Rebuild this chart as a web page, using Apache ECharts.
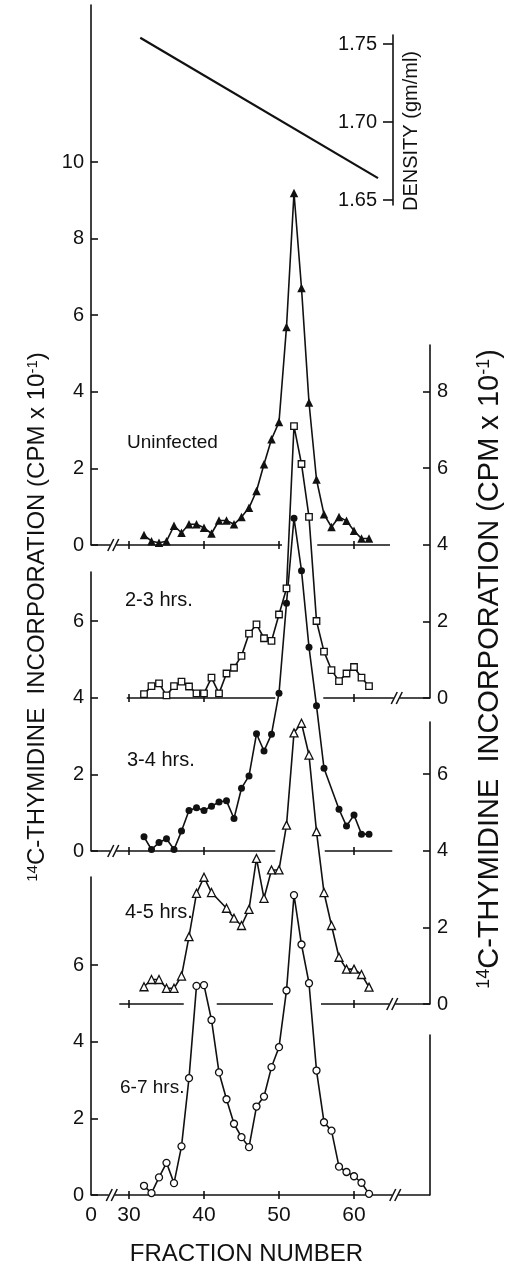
<!DOCTYPE html>
<html>
<head>
<meta charset="utf-8">
<script src="https://cdn.jsdelivr.net/npm/echarts@6/dist/echarts.min.js"></script>
<style>
  html, body { margin: 0; padding: 0; background: #fff; }
  #chart { width: 510px; height: 1267px; }
</style>
</head>
<body>
<div id="chart"></div>
<script>
// ---- data: fraction numbers and 14C-thymidine incorporation (CPM x 10^-1) ----
const fractionsAll = [32,33,34,35,36,37,38,39,40,41,42,43,44,45,46,47,48,49,50,51,52,53,54,55,56,57,58,59,60,61,62];

const uninfected = [0.26,0.10,0.06,0.10,0.50,0.32,0.54,0.54,0.45,0.30,0.64,0.64,0.54,0.73,0.97,1.41,2.11,2.76,3.21,5.69,9.19,6.71,3.72,1.71,0.80,0.47,0.73,0.63,0.37,0.17,0.17];

const hrs2to3 = [0.10,0.31,0.38,0.07,0.31,0.43,0.30,0.12,0.12,0.53,0.12,0.64,0.79,1.10,1.68,1.92,1.56,1.49,2.18,2.86,7.10,6.11,4.73,2.01,1.21,0.73,0.44,0.64,0.81,0.53,0.31];

const fractions3to4 = [32,33,34,35,36,37,38,39,40,41,42,43,44,45,46,47,48,49,50,51,52,53,54,55,56,58,59,60,61,62];
const hrs3to4 = [0.37,0.04,0.22,0.32,0.04,0.52,1.06,1.13,1.06,1.17,1.28,1.31,0.85,1.64,1.96,3.06,2.61,3.05,4.12,6.47,8.69,7.32,5.32,3.79,2.16,1.09,0.65,0.94,0.44,0.44];

const fractions4to5 = [32,33,34,35,36,37,38,39,40,41,43,44,45,46,47,48,49,50,51,52,53,54,55,56,57,58,59,60,61,62];
const hrs4to5 = [0.45,0.64,0.64,0.41,0.41,0.73,1.76,2.89,3.31,2.91,2.50,2.24,2.05,2.47,3.80,2.76,3.50,3.50,4.67,7.08,7.33,6.50,4.50,2.91,2.05,1.22,0.91,0.91,0.77,0.44];

const hrs6to7 = [0.24,0.05,0.46,0.84,0.31,1.27,3.05,5.46,5.48,4.57,3.20,2.50,1.86,1.51,1.25,2.31,2.57,3.34,3.86,5.34,7.83,6.54,5.53,3.25,1.90,1.68,0.74,0.60,0.49,0.32,0.03];

// density gradient (gm/ml) across the fractions
const densityFractions = [31.5, 63.2];
const densityValues = [1.754, 1.664];

// tick labels
const xTickValues = [30, 40, 50, 60];
const xTickLabels = ['0', '30', '40', '50', '60'];   // '0' sits at the broken origin
const densityTicks = [1.65, 1.70, 1.75];
const ticksUninfected = [0, 2, 4, 6, 8, 10];
const ticks2to3 = [0, 2, 4, 6, 8];
const ticks3to4 = [0, 2, 4, 6];
const ticks4to5 = [0, 2, 4, 6];
const ticks6to7 = [0, 2, 4, 6];

// baseline pieces per panel (fraction units; null = runs to the frame)
const baseUninfected = [[null, 50.4], [55.1, 64.8]];
const base2to3 = [[29.7, 49.5], [55.9, null]];
const base3to4 = [[null, 49.5], [56.1, 65.1]];
const base4to5 = [[28.7, 37.3], [41.7, 49.2], [55.6, null]];
const base6to7 = [[null, null]];
// axis-break marks "//" on the baselines
const breaksUninfected = [27.9];
const breaks2to3 = [65.7];
const breaks3to4 = [27.9];
const breaks4to5 = [65.1];
const breaks6to7 = [27.7, 65.5];
// baseline tick crosses
const xt2to3 = [30, 40, 60];
const xt3to4 = [30, 40, 60];
const xt4to5 = [30, 60];

// ---- layout ----
const FRAME_L = 91, FRAME_R = 430, X30 = 129, PX_PER_FRACTION = 7.5, PX_PER_UNIT = 38.3;
const xMin = 30 - (X30 - FRAME_L) / PX_PER_FRACTION;
const xMax = 30 + (FRAME_R - X30) / PX_PER_FRACTION;
const FONT = 'Liberation Sans, Arial, sans-serif';
const INK = '#111';

const panels = [
  { name: 'Uninfected', top: 5,   bottom: 545,  side: 'left',  ticks: ticksUninfected, values: uninfected, fr: fractionsAll,
    symbol: 'triangle', size: 8.5, filled: true,  base: baseUninfected, breaks: breaksUninfected, xt: xTickValues,
    label: [127, 443, 19] },
  { name: '2-3 hrs.',   top: 345, bottom: 698,  side: 'right', ticks: ticks2to3, values: hrs2to3, fr: fractionsAll,
    symbol: 'rect', size: 6.5, filled: false, base: base2to3, breaks: breaks2to3, xt: xt2to3,
    label: [125, 600, 20] },
  { name: '3-4 hrs.',   top: 572, bottom: 851,  side: 'left',  ticks: ticks3to4, values: hrs3to4, fr: fractions3to4,
    symbol: 'circle', size: 7, filled: true,  base: base3to4, breaks: breaks3to4, xt: xt3to4,
    label: [127, 760, 20] },
  { name: '4-5 hrs.',   top: 722, bottom: 1004, side: 'right', ticks: ticks4to5, values: hrs4to5, fr: fractions4to5,
    symbol: 'triangle', size: 8, filled: false, base: base4to5, breaks: breaks4to5, xt: xt4to5,
    label: [125, 912, 20] },
  { name: '6-7 hrs.',   top: 877, bottom: 1195, side: 'left',  ticks: ticks6to7, values: hrs6to7, fr: fractionsAll,
    symbol: 'circle', size: 7, filled: false, base: base6to7, breaks: breaks6to7, xt: xTickValues,
    label: [120, 1088, 19] }
];

const grid = [], xAxis = [], yAxis = [], series = [];
const lineW = 1.6;

panels.forEach((p, i) => {
  grid.push({ left: FRAME_L, top: p.top, width: FRAME_R - FRAME_L, height: p.bottom - p.top });
  const isBottom = i === panels.length - 1;
  const labelValues = [xMin].concat(xTickValues);
  xAxis.push({
    gridIndex: i, type: 'value', min: xMin, max: xMax,
    axisLine: { show: false }, axisTick: { show: false }, splitLine: { show: false },
    axisLabel: isBottom ? {
      show: true, customValues: labelValues,
      formatter: (v) => xTickLabels[labelValues.findIndex(t => Math.abs(t - v) < 1e-6)],
      fontSize: 21, fontFamily: FONT, color: INK, margin: 10
    } : { show: false },
    name: isBottom ? 'FRACTION NUMBER' : '',
    nameLocation: 'middle', nameGap: 47,
    nameTextStyle: { fontSize: 24, fontFamily: FONT, color: INK, padding: [0, 28, 0, 0] }
  });
  yAxis.push({
    gridIndex: i, type: 'value', position: p.side, min: 0, max: (p.bottom - p.top) / PX_PER_UNIT,
    axisLine: { show: true, lineStyle: { color: INK, width: lineW } },
    axisTick: { show: true, inside: true, length: 7, customValues: p.ticks, lineStyle: { color: INK, width: lineW } },
    axisLabel: { customValues: p.ticks, fontSize: 20, fontFamily: FONT, color: INK, margin: 7 },
    splitLine: { show: false }
  });

  // the curve
  series.push({
    type: 'line', xAxisIndex: i, yAxisIndex: i, clip: false, showAllSymbol: true,
    data: p.fr.map((f, k) => [f, p.values[k]]),
    symbol: p.symbol, symbolSize: p.size,
    lineStyle: { color: INK, width: lineW },
    itemStyle: p.filled ? { color: INK } : { color: '#fff', borderColor: INK, borderWidth: 1.3 },
    z: 3
  });

  // baseline pieces
  series.push({
    type: 'custom', xAxisIndex: i, yAxisIndex: i, silent: true, clip: false, z: 2,
    data: p.base.map(s => [s[0] === null ? xMin : s[0], s[1] === null ? xMax : s[1]]),
    renderItem: (params, api) => {
      const a = api.coord([api.value(0), 0]), b = api.coord([api.value(1), 0]);
      return { type: 'line', shape: { x1: a[0], y1: a[1], x2: b[0], y2: b[1] },
               style: { stroke: INK, lineWidth: lineW } };
    }
  });

  // tick crosses on the baseline
  series.push({
    type: 'custom', xAxisIndex: i, yAxisIndex: i, silent: true, clip: false, z: 2,
    data: p.xt.map(f => [f, 0]),
    renderItem: (params, api) => {
      const c = api.coord([api.value(0), 0]);
      return { type: 'line', shape: { x1: c[0], y1: c[1] - 4, x2: c[0], y2: c[1] + 4 },
               style: { stroke: INK, lineWidth: lineW } };
    }
  });

  // axis-break marks
  series.push({
    type: 'custom', xAxisIndex: i, yAxisIndex: i, silent: true, clip: false, z: 2,
    data: p.breaks.map(f => [f, 0]),
    renderItem: (params, api) => {
      const c = api.coord([api.value(0), 0]);
      const mk = (dx) => ({ type: 'line',
        shape: { x1: c[0] + dx - 3, y1: c[1] + 6, x2: c[0] + dx + 3, y2: c[1] - 6 },
        style: { stroke: INK, lineWidth: lineW } });
      return { type: 'group', children: [
        { type: 'rect', shape: { x: c[0] - 3, y: c[1] - 2, width: 6, height: 4 }, style: { fill: '#fff' } },
        mk(-2.5), mk(2.5)] };
    }
  });
});

// density gradient panel
const dIdx = grid.length;
grid.push({ left: FRAME_L, top: 35, width: 393 - FRAME_L, height: 170 });
xAxis.push({ gridIndex: dIdx, type: 'value', min: xMin, max: 30 + (393 - X30) / PX_PER_FRACTION, show: false });
const DENS_PX = 1560;   // px per gm/ml
yAxis.push({
  gridIndex: dIdx, type: 'value', position: 'right',
  max: 1.75 + (44 - 35) / DENS_PX, min: 1.65 - (205 - 200) / DENS_PX,
  axisLine: { show: true, lineStyle: { color: INK, width: lineW } },
  axisTick: { show: true, inside: true, length: 10, customValues: densityTicks, lineStyle: { color: INK, width: lineW } },
  axisLabel: { inside: true, customValues: densityTicks, formatter: v => v.toFixed(2),
               fontSize: 20, fontFamily: FONT, color: INK, margin: 16 },
  splitLine: { show: false },
  name: 'DENSITY (gm/ml)', nameLocation: 'middle', nameRotate: 90, nameGap: 3,
  nameTextStyle: { fontSize: 20, fontFamily: FONT, color: INK, padding: [0, 22, 0, 0] }
});
series.push({
  type: 'line', xAxisIndex: dIdx, yAxisIndex: dIdx, symbol: 'none', clip: false,
  data: densityFractions.map((f, k) => [f, densityValues[k]]),
  lineStyle: { color: INK, width: 2.2 }
});

// frame piece at the lower right
const rIdx = grid.length;
grid.push({ left: FRAME_L, top: 1035, width: FRAME_R - FRAME_L, height: 1195 - 1035 });
xAxis.push({ gridIndex: rIdx, type: 'value', min: xMin, max: xMax, show: false });
yAxis.push({ gridIndex: rIdx, type: 'value', position: 'right', min: 0, max: 1,
  axisLine: { show: true, lineStyle: { color: INK, width: lineW } },
  axisTick: { show: false }, axisLabel: { show: false }, splitLine: { show: false } });

const yTitle = '{sup|14}C-THYMIDINE  INCORPORATION (CPM x 10{sup|-1})';
const titleStyle = (x, y, size) => ({
  type: 'text', x: x, y: y, rotation: Math.PI / 2,
  style: {
    text: yTitle, fontSize: size, fontFamily: FONT, fill: INK, align: 'center', verticalAlign: 'middle',
    rich: { sup: { fontSize: Math.round(size * 0.62), fontFamily: FONT, fill: INK, verticalAlign: 'top',
                   lineHeight: Math.round(size * 0.5) } }
  }
});

const labelText = (text, pos) => ({
  type: 'text', x: pos[0], y: pos[1],
  style: { text: text, fontSize: pos[2], fontFamily: FONT, fill: INK, align: 'left', verticalAlign: 'middle' }
});

const chart = echarts.init(document.getElementById('chart'), null, { renderer: 'canvas' });
chart.setOption({
  animation: false,
  backgroundColor: '#fff',
  grid, xAxis, yAxis, series,
  graphic: [titleStyle(37, 617, 24), titleStyle(490, 669, 29)]
    .concat(panels.map(p => labelText(p.name, p.label)))
});
</script>
</body>
</html>
